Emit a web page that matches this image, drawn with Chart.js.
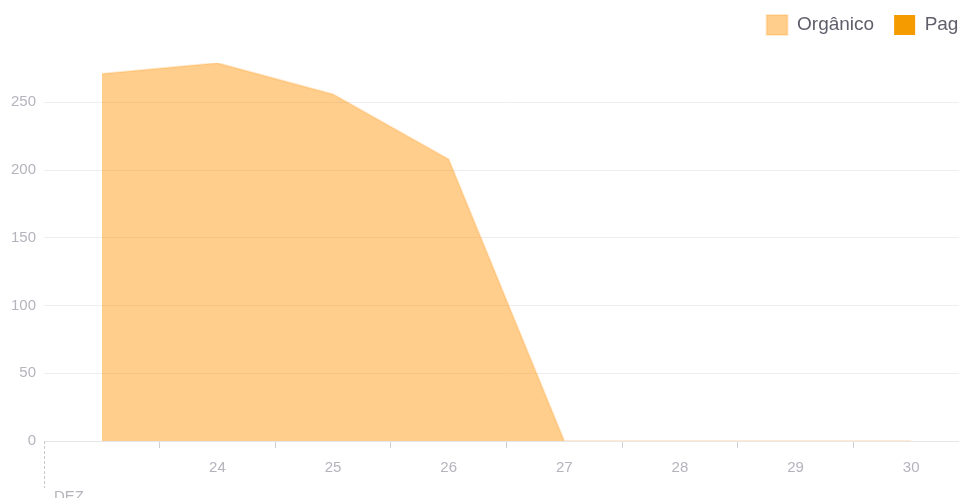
<!DOCTYPE html>
<html>
<head>
<meta charset="utf-8">
<script src="https://cdn.jsdelivr.net/npm/chart.js@4.4.1/dist/chart.umd.min.js"></script>
<style>
  html, body { margin: 0; padding: 0; background: #fff; overflow: hidden; }
  #wrap { position: relative; width: 980px; height: 498px; }
</style>
</head>
<body>
<div id="wrap"><canvas id="chart"></canvas></div>
<script>
// Days of December shown on the axis
const days = ['23', '24', '25', '26', '27', '28', '29', '30'];
const tickLabels = ['', '24', '25', '26', '27', '28', '29', '30'];
const monthLabel = 'DEZ';

// Visits per day by source
const organico = [271, 279, 256, 208, 0, 0, 0, 0];
const pago = [0, 0, 0, 0, 0, 0, 0, 0];

const seriesNames = ['Orgânico', 'Pago'];

// Extra room under the legend, and legend pushed flush with the plot's right edge
const legendSpacing = {
  id: 'legendSpacing',
  beforeInit(chart) {
    const fit = chart.legend.fit;
    chart.legend.fit = function () {
      fit.call(this);
      this.height += 18;
    };
  },
  afterLayout(chart) {
    const lg = chart.legend;
    const shift = lg.options.labels.padding;
    lg.left += shift;
    lg.right += shift;
  }
};

// Dashed month divider with the month name under the first day
const monthMarker = {
  id: 'monthMarker',
  afterDraw(chart) {
    const x = chart.scales.x;
    const ctx = chart.ctx;
    ctx.save();
    ctx.strokeStyle = '#c8c8cc';
    ctx.lineWidth = 1;
    ctx.setLineDash([3, 2]);
    ctx.beginPath();
    ctx.moveTo(Math.round(x.left) + 0.5, x.top);
    ctx.lineTo(Math.round(x.left) + 0.5, x.top + 47);
    ctx.stroke();
    ctx.setLineDash([]);
    ctx.fillStyle = '#b4b4bc';
    ctx.font = '15px "Liberation Sans", Arial, sans-serif';
    ctx.textAlign = 'left';
    ctx.textBaseline = 'top';
    ctx.fillText(monthLabel, x.left + 10, x.top + 48);
    ctx.restore();
  }
};

Chart.defaults.font.family = '"Liberation Sans", Arial, sans-serif';

new Chart(document.getElementById('chart'), {
  type: 'line',
  data: {
    labels: days,
    datasets: [
      {
        label: seriesNames[0],
        data: organico,
        fill: 'origin',
        backgroundColor: 'rgba(255,145,0,0.45)',
        borderColor: 'rgba(255,145,0,0.18)',
        borderWidth: 2,
        pointRadius: 0,
        tension: 0
      },
      {
        label: seriesNames[1],
        data: pago,
        fill: 'origin',
        backgroundColor: 'rgb(245,155,0)',
        borderColor: 'rgb(245,155,0)',
        borderWidth: 0,
        pointRadius: 0,
        tension: 0
      }
    ]
  },
  options: {
    responsive: true,
    maintainAspectRatio: false,
    animation: false,
    layout: { padding: { left: 3, right: 11, top: -5, bottom: 10 } },
    plugins: {
      legend: {
        position: 'top',
        align: 'end',
        labels: {
          boxWidth: 21,
          boxHeight: 20,
          padding: 20,
          color: '#5f5f6b',
          font: { size: 19 }
        }
      },
      tooltip: { enabled: false }
    },
    scales: {
      x: {
        offset: true,
        grid: {
          offset: true,
          drawOnChartArea: false,
          drawTicks: true,
          tickLength: 7,
          color: (c) => (c.index === 0 ? 'rgba(0,0,0,0)' : '#cfcfd4')
        },
        border: { display: true, color: '#e6e6e9' },
        ticks: {
          color: '#b4b4bc',
          font: { size: 15 },
          padding: 11,
          maxRotation: 0,
          autoSkip: false,
          callback: (v, i) => tickLabels[i]
        }
      },
      y: {
        min: 0,
        max: Math.max(...organico),
        border: { display: false },
        grid: { color: '#eeeef0', drawTicks: false },
        ticks: {
          stepSize: 50,
          includeBounds: false,
          color: '#b4b4bc',
          font: { size: 15 },
          padding: 8
        }
      }
    }
  },
  plugins: [legendSpacing, monthMarker]
});
</script>
</body>
</html>
